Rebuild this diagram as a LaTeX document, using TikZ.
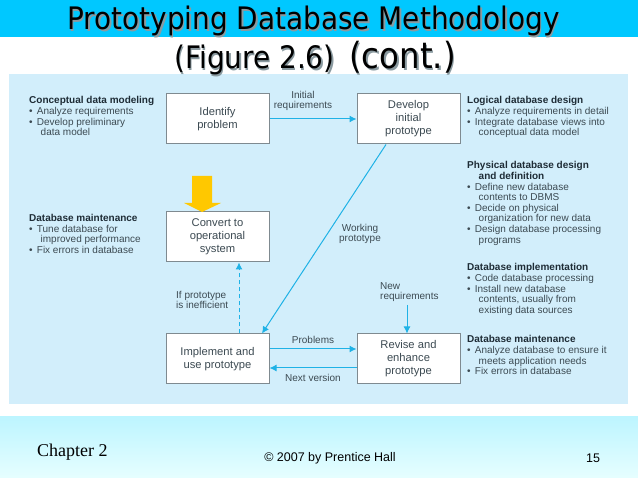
\documentclass[tikz,border=0pt]{standalone}
\usepackage{fontspec}
\setmainfont{Liberation Sans}
\newfontfamily\titlefont[FakeStretch=0.9]{DejaVu Sans}
\newfontfamily\timesfont{Liberation Serif}
\usetikzlibrary{arrows.meta}
\definecolor{bandblue}{HTML}{00C8FF}
\definecolor{panelblue}{HTML}{D2EEFB}
\definecolor{foottop}{HTML}{BDF5FF}
\definecolor{footbot}{HTML}{E6FEFF}
\definecolor{linkblue}{HTML}{1FB2E6}
\definecolor{boxgray}{HTML}{7F8A90}
\definecolor{txt}{HTML}{3C4A52}
\definecolor{headtxt}{HTML}{1E2C36}
\definecolor{shadowgray}{HTML}{8A9AA0}
\definecolor{arrowyellow}{HTML}{FFC800}
\newcommand{\bul}{\textbullet\hspace{4.2pt}}
\newcommand{\ind}{\hspace*{11.5pt}}
\tikzset{
  x=1pt,y=-1pt,
  flowbox/.style={draw=boxgray,line width=1pt,fill=white,minimum width=103pt,minimum height=50pt,inner sep=0pt,align=center,text=txt,font=\fontsize{11.2}{13}\selectfont},
  note/.style={anchor=north west,inner sep=0pt,align=left,text=txt,font=\fontsize{10}{10.6}\selectfont},
  linklabel/.style={inner sep=0pt,align=center,text=txt,font=\fontsize{10}{10.6}\selectfont},
  linkleft/.style={linklabel,align=left},
  link/.style={draw=linkblue,line width=1pt,-{Latex[length=7pt,width=7pt]}},
  titletext/.style={inner sep=0pt,anchor=base,text=black,font=\titlefont\fontsize{31}{36}\selectfont},
  titleshade/.style={titletext,text=shadowgray},
  titlebig/.style={titletext,font=\titlefont\fontsize{36}{40}\selectfont},
  titlebigshade/.style={titlebig,text=shadowgray},
  foot/.style={inner sep=0pt,text=black}
}
\newcommand{\hd}[1]{{\bfseries\color{headtxt}#1}}
\begin{document}
\begin{tikzpicture}
\useasboundingbox (0,0) rectangle (638,478);
\fill[white] (0,0) rectangle (638,478);
\fill[bandblue] (0,0) rectangle (638,37);
\fill[panelblue] (9,74) rectangle (628,404);
\shade[top color=foottop,bottom color=footbot] (0,417) rectangle (638,478);
% title
\node[titleshade] (t1s) at (315,31.5) {Prototyping Database Methodology};
\node[titletext] (t1) at (313.5,30) {Prototyping Database Methodology};
\node[titleshade] (t2s) at (256,70.5) {(Figure 2.6)};
\node[titletext] (t2) at (254.5,69) {(Figure 2.6)};
\node[titlebigshade] (t3s) at (404,70.5) {(cont.)};
\node[titlebig] (t3) at (402.5,69) {(cont.)};
% boxes
\node[flowbox] (identify) at (217.5,119) {Identify\\problem};
\node[flowbox] (develop) at (408.5,119) {Develop\\initial\\prototype};
\node[flowbox] (convert) at (217.5,237) {Convert to\\operational\\system};
\node[flowbox] (implement) at (217.5,359) {Implement and\\use prototype};
\node[flowbox] (revise) at (408.5,359) {Revise and\\enhance\\prototype};
\coordinate (newreq) at (407,305);
% connectors
\draw[link] (identify.east) -- (develop.west);
\draw[link] ([xshift=-22.5pt]develop.south) -- ([xshift=44.5pt]implement.north);
\draw[link,dashed,dash pattern=on 4pt off 3pt] ([xshift=21.5pt]implement.north) -- ([xshift=21.5pt]convert.south);
\draw[link] ([yshift=10pt]implement.east) -- ([yshift=10pt]revise.west);
\draw[link] ([yshift=-9pt]revise.west) -- ([yshift=-9pt]implement.east);
\draw[link] (newreq) -- (revise.north -| newreq);
% yellow arrow
\fill[arrowyellow] (192,176) -- (212,176) -- (212,203) -- (221,203) -- (202,212) -- (184,203) -- (192,203) -- cycle;
% link labels
\node[linklabel] (l1) at (303,101) {Initial\\requirements};
\node[linklabel] (l2) at (360,234) {Working\\prototype};
\node[linkleft,anchor=west] (l3) at (176,300) {If prototype\\is inefficient};
\node[linkleft,anchor=west] (l4) at (380,292) {New\\requirements};
\node[linklabel] (l5) at (313,340) {Problems};
\node[linklabel] (l6) at (313,378) {Next version};
% notes
\node[note] (n1) at (29,96.5) {\hd{Conceptual data modeling}\\\bul Analyze requirements\\\bul Develop preliminary\\\ind data model};
\node[note] (n2) at (29,214) {\hd{Database maintenance}\\\bul Tune database for\\\ind improved performance\\\bul Fix errors in database};
\node[note] (n3) at (467,96.5) {\hd{Logical database design}\\\bul Analyze requirements in detail\\\bul Integrate database views into\\\ind conceptual data model};
\node[note] (n4) at (467,161.5) {\hd{Physical database design}\\\ind\hd{and definition}\\\bul Define new database\\\ind contents to DBMS\\\bul Decide on physical\\\ind organization for new data\\\bul Design database processing\\\ind programs};
\node[note] (n5) at (467,263.5) {\hd{Database implementation}\\\bul Code database processing\\\bul Install new database\\\ind contents, usually from\\\ind existing data sources};
\node[note] (n6) at (467,335.5) {\hd{Database maintenance}\\\bul Analyze database to ensure it\\\ind meets application needs\\\bul Fix errors in database};
% footer
\node[foot,anchor=west,font=\timesfont\fontsize{18}{20}\selectfont] (f1) at (37,452) {Chapter 2};
\node[foot,font=\fontsize{12.5}{14}\selectfont] (f2) at (330,458) {© 2007 by Prentice Hall};
\node[foot,font=\fontsize{12.5}{14}\selectfont] (f3) at (593,458) {15};
\end{tikzpicture}
\end{document}
